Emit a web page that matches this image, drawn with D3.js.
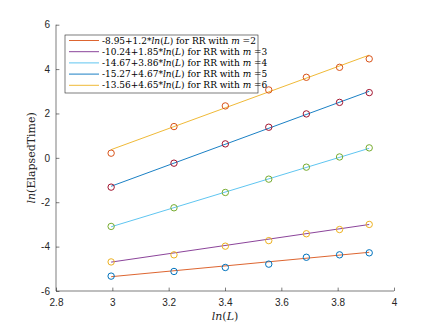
<!DOCTYPE html>
<html>
<head>
<meta charset="utf-8">
<script src="https://d3js.org/d3.v7.min.js"></script>
<style>
  body { margin: 0; background: #fff; }
  svg { display: block; }
</style>
</head>
<body>
<div id="my_dataviz"></div>
<script>
// data: ln(L) for L = 20..50 and ln(ElapsedTime) for each m
var lnL = [Math.log(20), Math.log(25), Math.log(30), Math.log(35), Math.log(40), Math.log(45), Math.log(50)];
var mValues = [2, 3, 4, 5, 6];
var intercepts = [-8.95, -10.24, -14.67, -15.27, -13.56];
var slopes = [1.2, 1.85, 3.86, 4.67, 4.65];
var time_m2 = [-5.33, -5.12, -4.94, -4.79, -4.48, -4.37, -4.28];
var time_m3 = [-4.69, -4.37, -3.98, -3.73, -3.42, -3.23, -3.00];
var time_m4 = [-3.09, -2.25, -1.56, -0.96, -0.42, 0.04, 0.45];
var time_m5 = [-1.32, -0.24, 0.63, 1.38, 1.98, 2.50, 2.94];
var time_m6 = [0.21, 1.41, 2.34, 3.06, 3.63, 4.08, 4.46];
var xTicks = [2.8, 3, 3.2, 3.4, 3.6, 3.8, 4];
var yTicks = [-6, -4, -2, 0, 2, 4, 6];

var times = [time_m2, time_m3, time_m4, time_m5, time_m6];
var lineColors = ["#D95319", "#7E2F8E", "#4DBEEE", "#0072BD", "#EDB120"];
var markerColors = ["#0072BD", "#EDB120", "#77AC30", "#A2142F", "#D95319"];

var W = 436, H = 327;
var svg = d3.select("#my_dataviz")
  .append("svg")
    .attr("width", W)
    .attr("height", H);

var x = d3.scaleLinear().domain([2.8, 4]).range([56, 394]);
var y = d3.scaleLinear().domain([-6, 6]).range([291, 24.7]);

var axisColor = "#262626";
var tickFont = "'Liberation Sans', Arial, sans-serif";
var serif = "'DejaVu Serif', serif";

// plain hyphen minus like MATLAB
var fmt = function(d) { return String(d); };

// axes (box off, ticks pointing inwards)
var xAxis = svg.append("g")
  .attr("transform", "translate(0," + y(-6) + ")")
  .call(d3.axisBottom(x).tickValues(xTicks).tickSize(-3.4).tickPadding(8).tickFormat(fmt));
var yAxis = svg.append("g")
  .attr("transform", "translate(" + x(2.8) + ",0)")
  .call(d3.axisLeft(y).tickValues(yTicks).tickSize(-3.4).tickPadding(6).tickFormat(fmt));

[xAxis, yAxis].forEach(function(ax) {
  ax.select(".domain").attr("stroke", axisColor).attr("stroke-width", 0.6)
    .attr("d", ax === xAxis ? "M" + x(2.8) + ",0H" + x(4) : "M0," + y(-6) + "V" + y(6));
  ax.selectAll(".tick line").attr("stroke", axisColor).attr("stroke-width", 0.6);
  ax.selectAll(".tick text").attr("fill", axisColor)
    .style("font-family", tickFont).style("font-size", "10px");
});

// fitted lines
var line = d3.line()
  .x(function(d) { return x(d[0]); })
  .y(function(d) { return y(d[1]); });

mValues.forEach(function(m, i) {
  var ends = [lnL[0], lnL[lnL.length - 1]].map(function(v) { return [v, intercepts[i] + slopes[i] * v]; });
  svg.append("path")
    .attr("d", line(ends))
    .style("fill", "none")
    .style("stroke", lineColors[i])
    .style("stroke-width", 0.9);
});

// measured points
mValues.forEach(function(m, i) {
  svg.selectAll(".pt" + m)
    .data(times[i])
    .enter()
    .append("circle")
      .attr("cx", function(d, j) { return x(lnL[j]); })
      .attr("cy", function(d) { return y(d); })
      .attr("r", 3.2)
      .style("fill", "none")
      .style("stroke", markerColors[i])
      .style("stroke-width", 1);
});

// axis labels
var xl = svg.append("text")
  .attr("x", x(3.4)).attr("y", 320)
  .attr("text-anchor", "middle")
  .style("font-family", serif).style("font-size", "11px").attr("fill", axisColor);
xl.append("tspan").style("font-style", "italic").text("ln");
xl.append("tspan").text("(");
xl.append("tspan").style("font-style", "italic").text("L");
xl.append("tspan").text(")");

var yl = svg.append("text")
  .attr("transform", "translate(35," + y(0) + ") rotate(-90)")
  .attr("text-anchor", "middle")
  .style("font-family", serif).style("font-size", "11px").attr("fill", axisColor);
yl.append("tspan").style("font-style", "italic").text("ln");
yl.append("tspan").text("(ElapsedTime)");

// Handmade legend
var lg = svg.append("g");
lg.append("rect")
  .attr("x", 65).attr("y", 35).attr("width", 193).attr("height", 58)
  .style("fill", "#fff").style("stroke", axisColor).style("stroke-width", 0.6);

mValues.forEach(function(m, i) {
  var ly = 40.5 + i * 11.2;
  lg.append("line")
    .attr("x1", 69).attr("x2", 99).attr("y1", ly).attr("y2", ly)
    .style("stroke", lineColors[i]).style("stroke-width", 0.9);
  var t = lg.append("text")
    .attr("x", 102).attr("y", ly).attr("dy", "0.35em")
    .style("font-family", serif).style("font-size", "9px").attr("fill", "#000");
  t.append("tspan").text(intercepts[i] + "+" + slopes[i] + "*");
  t.append("tspan").style("font-style", "italic").text("ln");
  t.append("tspan").text("(");
  t.append("tspan").style("font-style", "italic").text("L");
  t.append("tspan").text(") for RR with ");
  t.append("tspan").style("font-style", "italic").text("m");
  t.append("tspan").text(" =" + m);
});
</script>
</body>
</html>
